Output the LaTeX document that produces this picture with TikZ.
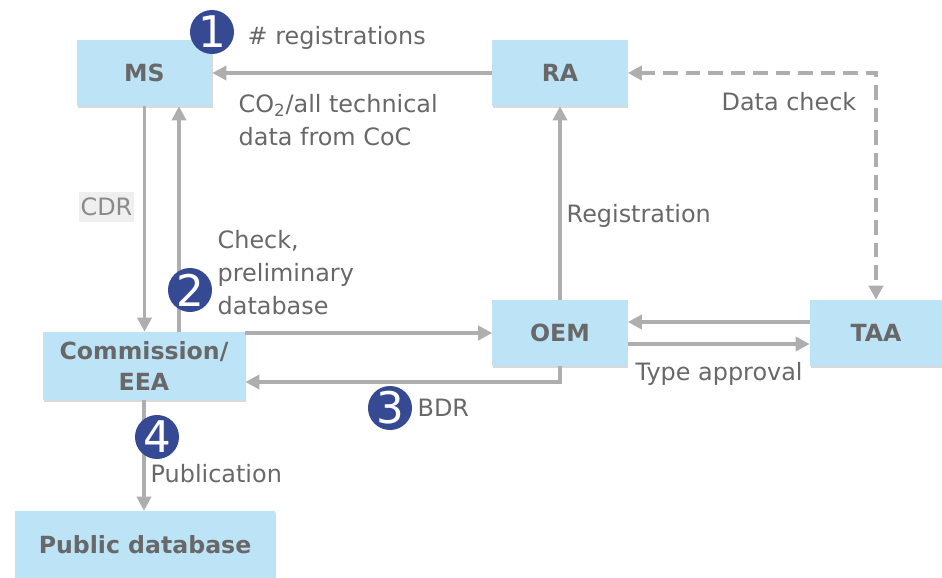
\documentclass[tikz,border=0pt]{standalone}
\usepackage{fontspec}
\setmainfont{DejaVu Sans}
\usepackage{tikz}
\usetikzlibrary{positioning, arrows.meta, shadows}
\definecolor{boxblue}{HTML}{BDE3F7}
\definecolor{numblue}{HTML}{354A93}
\definecolor{linegray}{HTML}{AEAEAE}
\definecolor{txtgray}{HTML}{686868}
\definecolor{cdrfill}{HTML}{EFEFEF}
\definecolor{cdrtext}{HTML}{8A8A8A}

\begin{document}
\begin{tikzpicture}[x=0.025cm, y=-0.025cm, >={Triangle[length=10pt,width=10pt]},
                    box/.style={rectangle, fill=boxblue, text=txtgray, align=center,
                      font=\bfseries\fontsize{16.8}{22.7}\selectfont,
                      minimum width=3.375cm, minimum height=1.65cm,
                      drop shadow={shadow xshift=0.5pt, shadow yshift=-1.5pt, opacity=0.3}},
                    lbl/.style={text=txtgray, inner sep=1pt, align=left,
                      font=\fontsize{17}{23.5}\selectfont},
                    num/.style={circle, fill=numblue, text=white, inner sep=0pt,
                      minimum size=1.1cm, font=\fontsize{31}{31}\selectfont},
                    flow/.style={draw=linegray, line width=2.7pt}]

    \useasboundingbox (0,0) rectangle (942,578);

    % boxes
    \node[box] (ms) at (144.5,73) {MS};
    \node[box] (ra) at (560,73) {RA};
    \node[box, minimum width=5.05cm, minimum height=1.7cm] (comm) at (144,366) {Commission/\\EEA};
    \node[box] (oem) at (560,333) {OEM};
    \node[box, minimum width=3.3cm] (taa) at (876,333) {TAA};
    \node[box, minimum width=6.5cm, minimum height=1.7cm] (pub) at (145,545) {Public database};

    % connectors
    \draw[flow,->] (ra.west) -- (ms.east);
    \draw[flow,->] (ms.south) -- (ms.south |- comm.north);
    \draw[flow,->] ([xshift=0.875cm]comm.north) -- ([xshift=0.875cm]comm.north |- ms.south);
    \draw[flow,->] (comm.east |- oem.west) -- (oem.west);
    \draw[flow,->] (oem.south) |- ([yshift=-0.4cm]comm.east);
    \draw[flow,->] (oem.north) -- (ra.south);
    \draw[flow,->] ([yshift=0.275cm]taa.west) -- ([yshift=0.275cm]oem.east);
    \draw[flow,->] ([yshift=-0.275cm]oem.east) -- ([yshift=-0.275cm]taa.west);
    \draw[flow,dash pattern=on 10pt off 6pt,<->] (ra.east) -| (taa.north);
    \draw[flow,->] (comm.south) -- (comm.south |- pub.north);

    % labels
    \node[lbl, anchor=west] (nreg) at (246,38) {\# registrations};
    \node[lbl, anchor=west] (co2) at (237,120.5) {CO\textsubscript{2}/all technical\\data from CoC};
    \node[lbl, anchor=east] (dchk) at (858,102) {Data check};
    \node[lbl, fill=cdrfill, text=cdrtext, inner sep=1pt, minimum width=1.33cm,
          minimum height=0.75cm] (cdr) at (106.5,207) {CDR};
    \node[lbl, anchor=west] (reg) at (565,216) {Registration};
    \node[lbl, anchor=west] (chk) at (216,273) {Check,\\preliminary\\database};
    \node[lbl, anchor=west] (tapp) at (634,374) {Type approval};
    \node[lbl, anchor=west] (bdr) at (416,408) {BDR};
    \node[lbl, anchor=west] (publ) at (149,474) {Publication};

    % step numbers
    \node[num] (n1) at (212,32) {1};
    \node[num] (n2) at (190,290) {2};
    \node[num] (n3) at (390,408) {3};
    \node[num] (n4) at (157,437) {4};
\end{tikzpicture}
\end{document}
